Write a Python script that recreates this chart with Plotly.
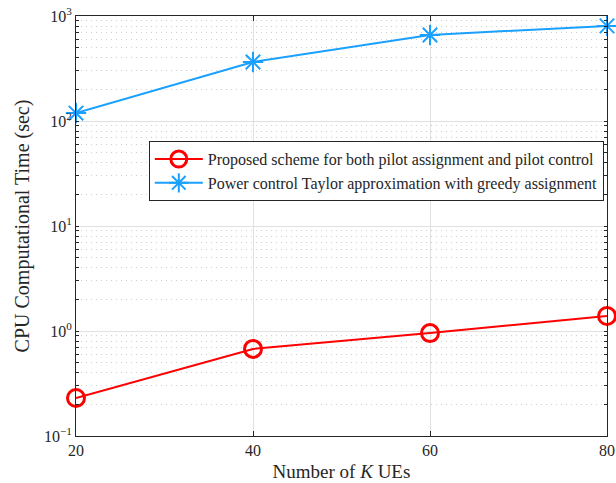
import plotly.graph_objects as go

K_values = [20, 40, 60, 80]
proposed_time = [0.23, 0.675, 0.955, 1.39]
taylor_time = [119, 365, 660, 805]
y_tickvals = [0.1, 1, 10, 100, 1000]
y_ticktext = ["10<sup>−1</sup>", "10<sup>0</sup>", "10<sup>1</sup>", "10<sup>2</sup>", "10<sup>3</sup>"]
x_tickvals = [20, 40, 60, 80]

FONT = "Liberation Serif"
TXT = "#262626"

fig = go.Figure()
fig.add_trace(go.Scatter(
    x=K_values, y=proposed_time, mode="lines+markers",
    name="Proposed scheme for both pilot assignment and pilot control",
    line=dict(color="#ff0000", width=2),
    marker=dict(symbol="circle-open", size=17, color="#ff0000", line=dict(width=3, color="#ff0000")),
    cliponaxis=False,
))
fig.add_trace(go.Scatter(
    x=K_values, y=taylor_time, mode="lines+markers",
    name="Power control Taylor approximation with greedy assignment",
    line=dict(color="#1aa0ff", width=2),
    marker=dict(symbol="asterisk-open", size=17, color="#1aa0ff", line=dict(width=2, color="#1aa0ff")),
    cliponaxis=False,
))

fig.update_layout(
    width=616, height=483,
    margin=dict(l=76, r=9, t=16, b=47, autoexpand=False),
    paper_bgcolor="white", plot_bgcolor="white",
    font=dict(family=FONT, size=15, color=TXT),
    showlegend=True,
    legend=dict(
        x=0.994, y=0.702, xanchor="right", yanchor="top",
        bgcolor="white", bordercolor=TXT, borderwidth=1,
        font=dict(family=FONT, size=16, color=TXT),
        tracegroupgap=0, itemwidth=48,
    ),
)

fig.update_xaxes(
    range=[20, 80], tickvals=x_tickvals, automargin=False,
    showline=True, linecolor=TXT, linewidth=1, mirror="ticks",
    ticks="inside", ticklen=5, tickcolor=TXT,
    showgrid=True, gridcolor="#e0e0e0", gridwidth=1,
    zeroline=False,
    tickfont=dict(family=FONT, size=16, color=TXT),
    title=dict(text="Number of <i>K</i> UEs", font=dict(family=FONT, size=19, color=TXT), standoff=6),
)
fig.update_yaxes(
    type="log", range=[-1, 3], tickvals=y_tickvals, ticktext=y_ticktext, automargin=False,
    showline=True, linecolor=TXT, linewidth=1, mirror="ticks",
    ticks="inside", ticklen=3, tickcolor=TXT,
    showgrid=True, gridcolor="#e0e0e0", gridwidth=1,
    minor=dict(ticks="inside", ticklen=3, tickcolor=TXT, dtick="D1",
               showgrid=True, gridcolor="#cfcfcf", griddash="1px,4px", gridwidth=1),
    zeroline=False,
    tickfont=dict(family=FONT, size=16, color=TXT),
    title=dict(text="CPU Computational Time (sec)", font=dict(family=FONT, size=20, color=TXT), standoff=8),
)

fig.write_html("out.html")
